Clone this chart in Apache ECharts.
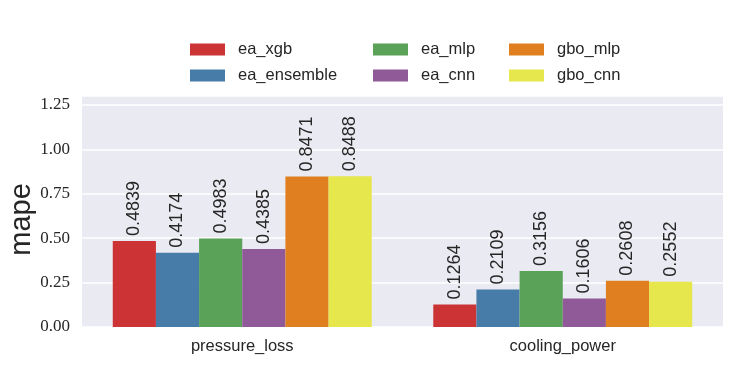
<!DOCTYPE html>
<html><head><meta charset="utf-8">
<script src="https://cdn.jsdelivr.net/npm/echarts@6/dist/echarts.min.js"></script>
<style>html,body{margin:0;padding:0;background:#fff}#c{width:747px;height:374px}</style>
</head><body><div id="c"></div>
<script>
const categories = ['pressure_loss', 'cooling_power'];
const seriesNames = ['ea_xgb', 'ea_ensemble', 'ea_mlp', 'ea_cnn', 'gbo_mlp', 'gbo_cnn'];
const ea_xgb = [0.4839, 0.1264];
const ea_ensemble = [0.4174, 0.2109];
const ea_mlp = [0.4983, 0.3156];
const ea_cnn = [0.4385, 0.1606];
const gbo_mlp = [0.8471, 0.2608];
const gbo_cnn = [0.8488, 0.2552];
const yTicks = [0, 0.25, 0.5, 0.75, 1.0, 1.25];

const values = [ea_xgb, ea_ensemble, ea_mlp, ea_cnn, gbo_mlp, gbo_cnn];
const colors = ['#CB3335', '#477CA8', '#59A257', '#905998', '#DF7F20', '#E6E64D'];

const chart = echarts.init(document.getElementById('c'), null, {renderer: 'canvas'});
const legendBase = {
  orient: 'vertical', itemWidth: 35, itemHeight: 12, itemGap: 9, padding: 0,
  icon: 'rect',
  textStyle: {fontFamily: 'Liberation Sans, Arial, sans-serif', fontSize: 16.5, lineHeight: 16, color: '#262626', padding: [0,0,0,8]},
  top: 41
};
option = {
  animation: false,
  backgroundColor: '#fff',
  color: colors,
  legend: [
    Object.assign({}, legendBase, {left: 190, data: [seriesNames[0], seriesNames[1]]}),
    Object.assign({}, legendBase, {left: 373, data: [seriesNames[2], seriesNames[3]]}),
    Object.assign({}, legendBase, {left: 509, data: [seriesNames[4], seriesNames[5]]})
  ],
  grid: {left: 82, right: 24, top: 96, bottom: 47, show: true, backgroundColor: '#EAEAF2', borderWidth: 0,
         containLabel: false, outerBoundsMode: 'none'},
  xAxis: {
    type: 'category', data: categories,
    axisLine: {show: false}, axisTick: {show: false},
    axisLabel: {fontFamily: 'Liberation Sans, Arial, sans-serif', fontSize: 16.5, color: '#262626', margin: 11}
  },
  yAxis: {
    type: 'value', min: 0, max: 1.3, interval: 0.25,
    name: 'mape', nameLocation: 'middle', nameGap: 46, nameMoveOverlap: false,
    nameTextStyle: {fontFamily: 'Liberation Sans, Arial, sans-serif', fontSize: 29, color: '#262626', padding: [0, 16, 0, 0]},
    axisLine: {show: false}, axisTick: {show: false},
    splitLine: {lineStyle: {color: '#ffffff', width: 1.5}},
    axisLabel: {
      fontFamily: 'Liberation Serif, DejaVu Serif, serif', fontSize: 17, color: '#262626', margin: 12,
      formatter: function (v) {
        for (const t of yTicks) { if (Math.abs(v - t) < 1e-9) return t.toFixed(2); }
        return '';
      }
    }
  },
  series: seriesNames.map((n, i) => ({
    name: n, type: 'bar', data: values[i],
    barGap: '0%', barCategoryGap: '19.2%',
    itemStyle: {color: colors[i]},
    label: {
      show: true, position: 'top', rotate: 90, align: 'left', verticalAlign: 'middle', distance: 5,
      fontFamily: 'Liberation Sans, Arial, sans-serif', fontSize: 18, color: '#262626',
      formatter: p => p.value.toFixed(4)
    }
  }))
};
chart.setOption(option);
</script></body></html>
